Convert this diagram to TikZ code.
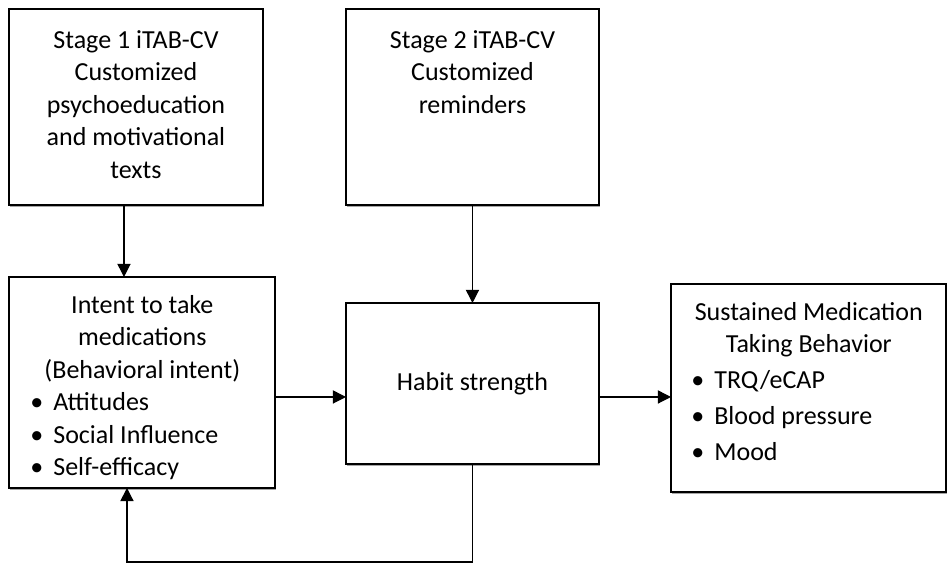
\documentclass[tikz,border=0pt]{standalone}
\usepackage{fontspec}
\setmainfont{Carlito}
\usetikzlibrary{positioning,arrows.meta,shadows}
\newcommand{\itm}[1]{\makebox[0.46cm][l]{\textbullet}#1}
\newcommand{\ctrline}[2]{\makebox[#1]{#2}}

\begin{document}
\begin{tikzpicture}[x=0.02cm, y=-0.02cm, font=\fontsize{14.8}{18.5}\selectfont]
  \tikzset{box/.style={draw, line width=1.1pt, fill=white, anchor=north west, inner sep=0pt, outer sep=0pt,
      drop shadow={shadow xshift=0.4pt, shadow yshift=-0.9pt, fill=gray!70, opacity=1}}}
  \tikzset{txt/.style={align=center, inner sep=0pt}}
  \tikzset{lst/.style={align=left, inner sep=0pt, anchor=north west}}
  \tikzset{arr/.style={-{Triangle[length=7.5pt, width=7.5pt]}, line width=0.7pt}}
  \useasboundingbox (0,0) rectangle (949,564);
  \node[box, minimum width=5.08cm, minimum height=3.92cm] (stage1) at (9,9) {};
  \node[box, minimum width=5.06cm, minimum height=3.92cm] (stage2) at (346,9) {};
  \node[box, minimum width=5.32cm, minimum height=4.22cm] (intent) at (9,277) {};
  \node[box, minimum width=5.06cm, minimum height=3.22cm] (habit) at (346,303) {Habit strength};
  \node[box, minimum width=5.5cm, minimum height=4.16cm] (sustained) at (671,284) {};
  \node[txt, below=0.42cm of stage1.north] (stage1text) {Stage 1 iTAB-CV\\Customized\\psychoeducation\\and motivational\\texts};
  \node[txt, below=0.42cm of stage2.north] (stage2text) {Stage 2 iTAB-CV\\Customized\\reminders};
  \node[lst] (intenttext) at ([yshift=-0.36cm]intent.north west) {\ctrline{5.32cm}{Intent to take}\\
    \ctrline{5.32cm}{medications}\\\ctrline{5.32cm}{(Behavioral intent)}\\
    \hspace*{0.42cm}\itm{Attitudes}\\\hspace*{0.42cm}\itm{Social Influence}\\\hspace*{0.42cm}\itm{Self-efficacy}};
  \node[lst] (sustainedtext) at ([yshift=-0.36cm]sustained.north west) {\ctrline{5.5cm}{Sustained Medication}\\
    \ctrline{5.5cm}{Taking Behavior}\\[1.5pt]\hspace*{0.4cm}\itm{TRQ/eCAP}\\[2pt]
    \hspace*{0.4cm}\itm{Blood pressure}\\[2pt]\hspace*{0.4cm}\itm{Mood}};
  \draw[arr] ([xshift=-0.24cm]stage1.south) -- ([xshift=-0.24cm]stage1.south |- intent.north);
  \draw[arr] (stage2.south) -- (habit.north);
  \draw[arr] ([yshift=-0.29cm]intent.east) -- ([yshift=-0.29cm]intent.east -| habit.west);
  \draw[arr] ([yshift=-0.27cm]habit.east) -- ([yshift=-0.27cm]habit.east -| sustained.west);
  \draw[arr] (habit.south) -- ++(0,98) -| ([xshift=-0.3cm]intent.south);
\end{tikzpicture}
\end{document}
